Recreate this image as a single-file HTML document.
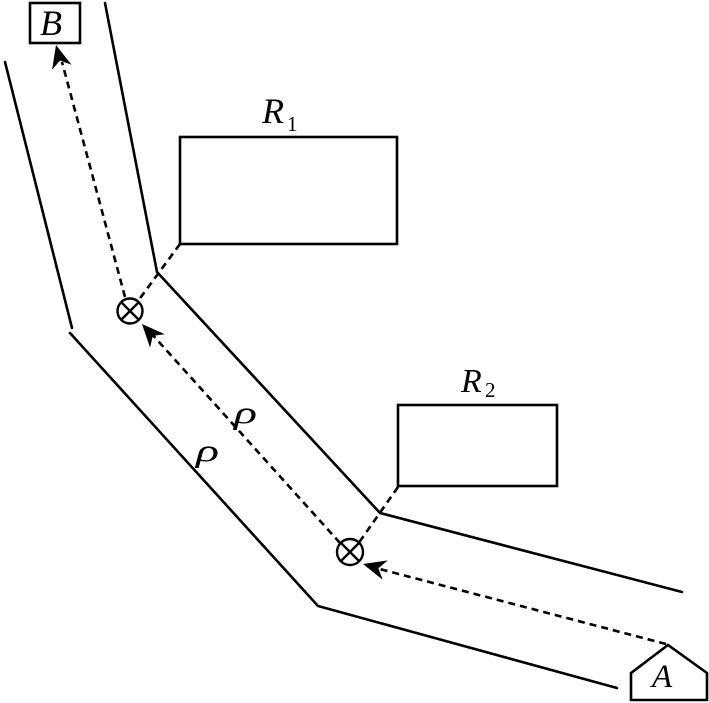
<!DOCTYPE html>
<html>
<head>
<meta charset="utf-8">
<style>
html,body{margin:0;padding:0;background:#fff;}
svg{display:block;}
text{font-family:"Liberation Serif","Times New Roman",serif;font-style:italic;fill:#000;}
</style>
</head>
<body>
<svg width="709" height="703" viewBox="0 0 709 703" xmlns="http://www.w3.org/2000/svg">
<defs>
<path id="ah" d="M0,0 L-23,-10 L-16,0 L-23,10 Z" fill="#000"/>
</defs>
<!-- channel lines -->
<g stroke="#000" stroke-width="2.6" fill="none" stroke-linecap="round">
<polyline points="5,62 72,328"/>
<polyline points="70,333 318,606 617,688"/>
<polyline points="105,3 157,272 380,513 682,592"/>
</g>
<!-- rectangles -->
<rect x="180" y="137" width="217" height="107" fill="none" stroke="#000" stroke-width="2.6"/>
<rect x="398" y="405" width="159" height="81" fill="none" stroke="#000" stroke-width="2.6"/>
<rect x="30" y="3" width="50" height="40" fill="#fff" stroke="#000" stroke-width="2.6"/>
<polygon points="631,673 668,645 707,673 707,700 631,700" fill="#fff" stroke="#000" stroke-width="2.6"/>
<!-- dashed lines -->
<g stroke="#000" stroke-width="2.6" stroke-dasharray="7,5" fill="none">
<line x1="666" y1="644" x2="372" y2="567"/>
<line x1="340" y1="543" x2="150" y2="332"/>
<line x1="125" y1="297" x2="62" y2="62"/>
<line x1="180" y1="244" x2="138" y2="301"/>
<line x1="398" y1="487" x2="358" y2="544"/>
</g>
<!-- circles with X -->
<g stroke="#000" stroke-width="2.4" fill="#fff">
<circle cx="130" cy="311" r="12.5"/>
<line x1="121" y1="302" x2="139" y2="320"/>
<line x1="139" y1="302" x2="121" y2="320"/>
<circle cx="350" cy="552" r="13"/>
<line x1="341" y1="543" x2="359" y2="561"/>
<line x1="359" y1="543" x2="341" y2="561"/>
</g>
<!-- arrowheads -->
<use href="#ah" transform="translate(56,45) rotate(-104.6)"/>
<use href="#ah" transform="translate(142,324) rotate(-132.3)"/>
<use href="#ah" transform="translate(363,564) rotate(195.2)"/>
<!-- labels -->
<text x="40" y="35" font-size="36">B</text>
<text x="652" y="687" font-size="33">A</text>
<text x="262" y="123" font-size="36">R</text>
<text x="287" y="131" font-size="21" style="font-style:normal">1</text>
<text x="461" y="392" font-size="34">R</text>
<text x="485" y="397" font-size="21" style="font-style:normal">2</text>
<text transform="translate(234,423) scale(1.5,1)" font-size="32">ρ</text>
<text transform="translate(196,461) scale(1.5,1)" font-size="32">ρ</text>
</svg>
</body>
</html>
